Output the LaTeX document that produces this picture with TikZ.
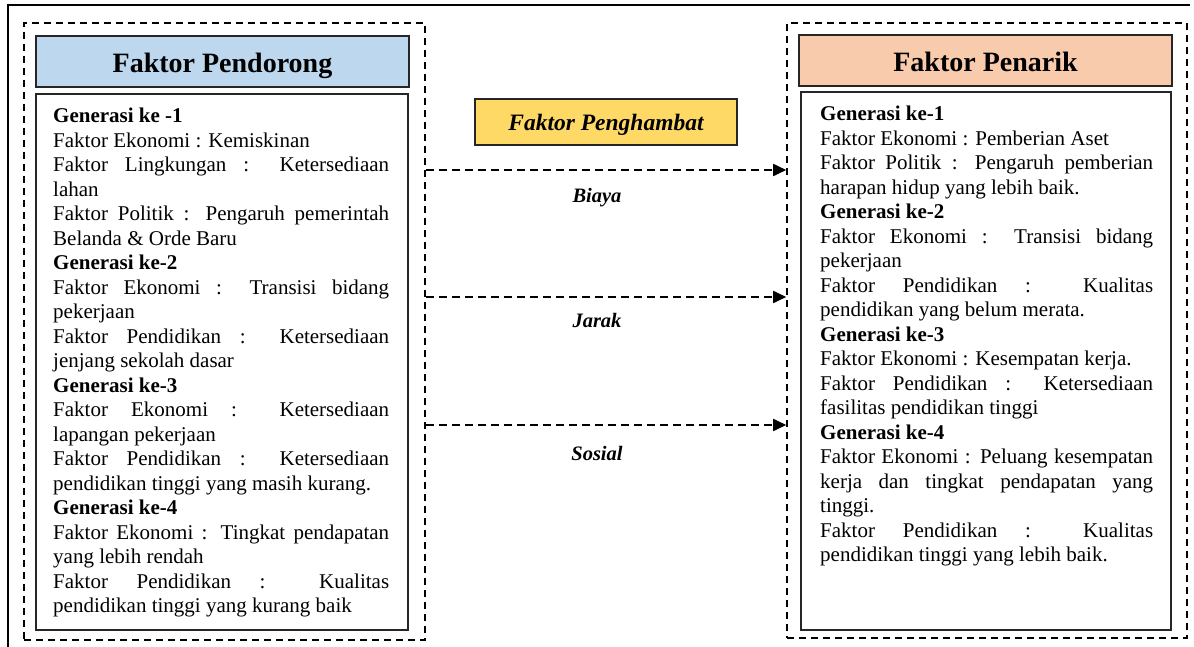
\documentclass[tikz,border=0pt]{standalone}
\usepackage{fontspec}
\setmainfont{Liberation Serif}
\usetikzlibrary{arrows.meta}
\definecolor{hblue}{HTML}{BDD7EE}
\definecolor{horange}{HTML}{F8CBAD}
\definecolor{hyellow}{HTML}{FFD966}
\definecolor{edge}{HTML}{262626}
\tikzset{
  dashbox/.style={draw=black, line width=1.6pt, dash pattern=on 7pt off 5pt, inner sep=0pt},
  header/.style={draw=edge, line width=1.8pt, inner sep=0pt, minimum height=51pt,
    text height=23pt, text depth=0pt,
    font=\fontsize{28}{31}\selectfont\bfseries},
  contentbox/.style={draw=edge, line width=1.8pt, inner sep=0pt},
  bodytext/.style={anchor=base west, inner sep=0pt, align=justify,
    font=\fontsize{21}{24.5}\selectfont},
  hambat/.style={draw=edge, line width=1.6pt, fill=hyellow, inner sep=0pt,
    minimum width=262pt, minimum height=46pt, text height=17.4pt, text depth=0pt,
    font=\fontsize{23.5}{27}\selectfont\bfseries\itshape},
  barrier/.style={anchor=base, inner sep=0pt, font=\fontsize{20.5}{23}\selectfont\bfseries\itshape},
  flow/.style={line width=1.8pt, dash pattern=on 8pt off 5pt, -{Triangle[length=13pt,width=12pt]}},
}
\begin{document}
\begin{tikzpicture}[x=1pt,y=-1pt]
\useasboundingbox (0,0) rectangle (1194,647);
% outer frame
\draw[line width=2.5pt] (8,647) -- (8,5) -- (1190,5);

% dashed groups
\node[dashbox, minimum width=401pt, minimum height=617pt] (L) at (224.5,331.5) {};
\node[dashbox, minimum width=400pt, minimum height=615pt] (R) at (987,330.5) {};

% headers
\node[header, fill=hblue, minimum width=373pt] (LH) at (222.5,61.5) {Faktor Pendorong};
\node[header, fill=horange, minimum width=373pt] (RH) at (985.5,60.5) {Faktor Penarik};

% content boxes
\node[contentbox, minimum width=372pt, minimum height=536pt] (LC) at (222,362) {};
\node[contentbox, minimum width=370pt, minimum height=538pt] (RC) at (986,361) {};

\node[bodytext, text width=336pt] (LT) at (53,123) {%
\textbf{Generasi ke -1}\par
Faktor Ekonomi : Kemiskinan\par
Faktor Lingkungan : Ketersediaan\linebreak lahan\par
Faktor Politik : Pengaruh pemerintah\linebreak Belanda \& Orde Baru\par
\textbf{Generasi ke-2}\par
Faktor Ekonomi : Transisi bidang\linebreak pekerjaan\par
Faktor Pendidikan : Ketersediaan\linebreak jenjang sekolah dasar\par
\textbf{Generasi ke-3}\par
Faktor Ekonomi : Ketersediaan\linebreak lapangan pekerjaan\par
Faktor Pendidikan : Ketersediaan\linebreak pendidikan tinggi yang masih kurang.\par
\textbf{Generasi ke-4}\par
Faktor Ekonomi : Tingkat pendapatan\linebreak yang lebih rendah\par
Faktor Pendidikan : Kualitas\linebreak pendidikan tinggi yang kurang baik};

\node[bodytext, text width=333pt] (RT) at (820,121) {%
\textbf{Generasi ke-1}\par
Faktor Ekonomi : Pemberian Aset\par
Faktor Politik : Pengaruh pemberian\linebreak harapan hidup yang lebih baik.\par
\textbf{Generasi ke-2}\par
Faktor Ekonomi : Transisi bidang\linebreak pekerjaan\par
Faktor Pendidikan : Kualitas\linebreak pendidikan yang belum merata.\par
\textbf{Generasi ke-3}\par
Faktor Ekonomi : Kesempatan kerja.\par
Faktor Pendidikan : Ketersediaan\linebreak fasilitas pendidikan tinggi\par
\textbf{Generasi ke-4}\par
Faktor Ekonomi : Peluang kesempatan\linebreak kerja dan tingkat pendapatan yang\linebreak tinggi.\par
Faktor Pendidikan : Kualitas\linebreak pendidikan tinggi yang lebih baik.};

% middle
\node[hambat] (H) at (606,122) {Faktor Penghambat};

\draw[flow] (L.east |- 0,170) -- (R.west |- 0,170);
\draw[flow] (L.east |- 0,297) -- (R.west |- 0,297);
\draw[flow] (L.east |- 0,425) -- (R.west |- 0,425);

\node[barrier] (B1) at (597,203) {Biaya};
\node[barrier] (B2) at (597,327) {Jarak};
\node[barrier] (B3) at (597,460) {Sosial};
\end{tikzpicture}
\end{document}
